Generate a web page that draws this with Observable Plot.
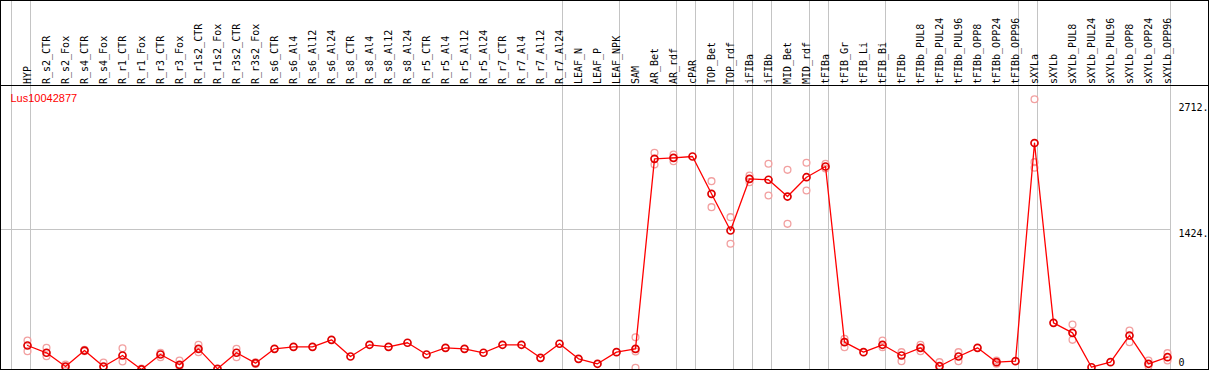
<!DOCTYPE html>
<html><head><meta charset="utf-8">
<script src="https://cdn.jsdelivr.net/npm/d3@7"></script>
<script src="https://cdn.jsdelivr.net/npm/@observablehq/plot@0.6"></script>
<style>
html,body{margin:0;padding:0;background:#fff;}
#wrap{position:relative;width:1209px;height:370px;overflow:hidden;background:#fff;}
#wrap svg{position:absolute;left:0;top:0;}
#box{position:absolute;left:0;top:0;width:1209px;height:370px;box-sizing:border-box;border:1px solid #000;pointer-events:none;z-index:2;}
</style></head>
<body><div id="wrap"><div id="box"></div></div>
<script>
const title = "Lus10042877";
const samples = ["HYP","R_s2_CTR","R_s2_Fox","R_s4_CTR","R_s4_Fox","R_r1_CTR","R_r1_Fox","R_r3_CTR","R_r3_Fox",
  "R_r1s2_CTR","R_r1s2_Fox","R_r3s2_CTR","R_r3s2_Fox","R_s6_CTR","R_s6_Al4","R_s6_Al12","R_s6_Al24",
  "R_s8_CTR","R_s8_Al4","R_s8_Al12","R_s8_Al24","R_r5_CTR","R_r5_Al4","R_r5_Al12","R_r5_Al24",
  "R_r7_CTR","R_r7_Al4","R_r7_Al12","R_r7_Al24","LEAF_N","LEAF_P","LEAF_NPK","SAM","AR_Bet","AR_rdf",
  "cPAR","TOP_Bet","TOP_rdf","iFIBa","iFIBb","MID_Bet","MID_rdf","tFIBa","tFIB_Gr","tFIB_Li","tFIB_Bi",
  "tFIBb","tFIBb_PUL8","tFIBb_PUL24","tFIBb_PUL96","tFIBb_OPP8","tFIBb_OPP24","tFIBb_OPP96","sXYLa",
  "sXYLb","sXYLb_PUL8","sXYLb_PUL24","sXYLb_PUL96","sXYLb_OPP8","sXYLb_OPP24","sXYLb_OPP96"];
const means = [277,205,69,227,69,178,40,188,86,244,46,205,102,244,264,264,333,168,284,264,304,188,254,244,205,
  284,284,155,294,145,96,211,244,2123,2133,2146,1777,1414,1925,1916,1750,1941,2047,310,211,284,178,254,72,
  168,254,112,122,2279,501,402,62,112,376,96,161];
const reps = [[326,221],[254,171],[89,62],[234,221],[109,62],[250,119],[49],[205,161],[129,69],[284,211],[],
  [244,161],[110,95],[],[],[],[],[],[],[],[],[],[],[],[],[],[],[],[],[],[],[],[359,218,56],[2183,2067],
  [2166,2099],[],[1902,1645],[1546,1283],[1958,1892],[2074,1760],[2014,1480],[2084,1810],[2074,2027],
  [343,260],[],[326,260],[211,122],[284,221],[112,40],[211,122],[],[129,96],[],[2712,2090,2034],[],
  [485,333],[],[],[425,310],[129,72],[201,129]];
const groupEnds = ["HYP","R_r7_Al24","LEAF_NPK","AR_rdf","cPAR","TOP_rdf","iFIBa","iFIBb","MID_rdf","tFIBa",
  "tFIB_Bi","tFIBb_OPP96","sXYLa","sXYLb_OPP96"];
const yTicks = [2712, 1424, 0];
const yTickLabels = ["2712.", "1424.", "0"];
const yMax = 2848;

const meanRows = samples.map((s, i) => ({sample: s, value: means[i]}));
const repRows = samples.flatMap((s, i) => reps[i].map(v => ({sample: s, value: v})));
const mono = "'DejaVu Sans Mono', monospace";
const grid = "#c4c4c4";
const rightMargin = 39;

const chart = Plot.plot({
  width: 1209, height: 370,
  marginTop: 0, marginLeft: 0, marginBottom: 0, marginRight: rightMargin,
  style: {fontFamily: mono, fontSize: "10px", background: "transparent", overflow: "hidden"},
  x: {type: "point", domain: samples, range: [26.7, 1166.7], padding: 0, axis: null},
  y: {domain: [0, yMax], range: [373, 85], axis: null},
  marks: [
    Plot.ruleX([samples[0]], {stroke: grid, dx: -16}),
    Plot.ruleX(groupEnds, {stroke: grid, dx: 3}),
    Plot.ruleY([yTicks[1]], {stroke: grid}),
    Plot.ruleY([yMax], {stroke: "#000", insetRight: -rightMargin}),
    Plot.text(samples, {x: d => d, y: yMax, text: d => d, rotate: -90, textAnchor: "start",
      lineAnchor: "middle", dy: -1.5, fill: "#000", fontFamily: mono, fontSize: 10}),
    Plot.dot(repRows, {x: "sample", y: "value", r: 3.4, stroke: "#f2a0a0", strokeWidth: 1.3, fill: "none"}),
    Plot.line(meanRows, {x: "sample", y: "value", stroke: "#ff0000", strokeWidth: 1.3}),
    Plot.dot(meanRows, {x: "sample", y: "value", r: 3.5, stroke: "#e00000", strokeWidth: 1.7, fill: "none"}),
    Plot.text([title], {frameAnchor: "top-left", dx: 10, dy: 101, lineAnchor: "bottom", textAnchor: "start",
      fill: "#ff0000", fontFamily: "'Liberation Sans', Arial, sans-serif", fontSize: 11}),
    Plot.text([yTickLabels[0]], {frameAnchor: "right", y: yTicks[0], dx: 8, dy: 12, lineAnchor: "bottom",
      textAnchor: "start", fill: "#000", fontFamily: mono, fontSize: 10}),
    Plot.text([yTickLabels[1]], {frameAnchor: "right", y: yTicks[1], dx: 8, dy: 7, lineAnchor: "bottom",
      textAnchor: "start", fill: "#000", fontFamily: mono, fontSize: 10}),
    Plot.text([yTickLabels[2]], {frameAnchor: "right", y: yTicks[2], dx: 8, dy: -8, lineAnchor: "bottom",
      textAnchor: "start", fill: "#000", fontFamily: mono, fontSize: 10})
  ]
});
document.getElementById("wrap").prepend(chart);
</script>
</body></html>
